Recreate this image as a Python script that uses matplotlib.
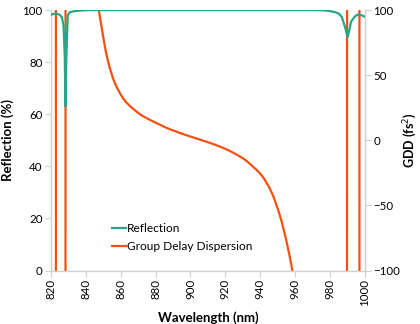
import numpy as np
import matplotlib.pyplot as plt
from matplotlib.path import Path
from matplotlib.patches import PathPatch

plt.rcParams['font.family'] = ['Lato', 'DejaVu Sans']

# reflection spectrum (%)
refl_wl = [820, 822, 823.5, 825, 826.3, 827.3, 828.0, 828.4, 828.9, 829.7, 831,
           833.8, 837, 842, 860, 900, 940, 970, 976, 980, 982.8, 985, 986.7,
           988.5, 989.5, 990.1, 990.8, 992, 994.3, 996, 998, 1000]
refl = [98.2, 98.6, 98.6, 98.2, 97.3, 94, 82, 63, 82, 98, 99.2,
        99.6, 99.8, 100, 100, 100, 100, 100, 99.9, 99.6, 99.2, 98.6, 97.4,
        93.6, 91, 89.7, 91.5, 95.5, 97.6, 98.3, 98.0, 97.4]

# group delay dispersion (fs^2), values beyond the axis range are clipped
gdd_wl = [820, 822.9, 822.95, 828.4, 828.45, 846, 847.5, 849.1, 850.6, 852.9,
          856.7, 862.4, 870.1, 874.9, 882.5, 888.2, 899.7, 911.2, 920.7, 928.4,
          933.1, 940.8, 946.5, 951.3, 955.1, 958.4, 960,
          989.7, 989.75, 996.8, 996.85, 1000]
gdd = [300, 300, -300, -300, 300, 115, 100, 87, 75, 60,
       44, 30.5, 21, 17, 12, 8.5, 3, -2, -7, -12.5,
       -17, -27, -40, -58, -78, -100, -112,
       -300, 300, 300, -300, -300]

teal = '#26a58b'
red = '#f5500f'
grey = '#d0d0d0'


def smooth_path(x, y):
    """Catmull-Rom style bezier path through the points (like a smoothed line)."""
    pts = np.column_stack([x, y])
    n = len(pts)
    verts = [pts[0]]
    codes = [Path.MOVETO]
    for i in range(n - 1):
        p0 = pts[max(i - 1, 0)]
        p1 = pts[i]
        p2 = pts[i + 1]
        p3 = pts[min(i + 2, n - 1)]
        verts += [p1 + (p2 - p0) / 6, p2 - (p3 - p1) / 6, p2]
        codes += [Path.CURVE4] * 3
    return Path(verts, codes)


fig = plt.figure(figsize=(4.2, 3.24), dpi=100)
ax = fig.add_axes([0.121, 0.165, 0.748, 0.804])
ax2 = ax.twinx()

wl = np.array(gdd_wl)
g = np.array(gdd)
left = wl <= 846
mid = (wl >= 846) & (wl <= 960)
right = wl >= 960

l1, = ax.plot(refl_wl, refl, color=teal, lw=1.6, label='Reflection', zorder=3)
l2, = ax2.plot(wl[left], g[left], color=red, lw=1.6, label='Group Delay Dispersion')
ax2.plot(wl[right], g[right], color=red, lw=1.6)
ax2.add_patch(PathPatch(smooth_path(wl[mid], g[mid]), fill=False,
                        edgecolor=red, lw=1.6))
ax.set_zorder(ax2.get_zorder() + 1)
ax.patch.set_visible(False)

ax.set_xlim(820, 1000)
ax.set_ylim(0, 100)
ax2.set_ylim(-100, 100)
ax.set_xticks(np.arange(820, 1001, 20))
ax.set_yticks(np.arange(0, 101, 20))
ax2.set_yticks(np.arange(-100, 101, 50))
ax.tick_params(axis='x', labelrotation=90)

for a in (ax, ax2):
    for s in a.spines.values():
        s.set_visible(False)
    a.tick_params(length=4, width=0.8, color=grey, labelsize=8.3, pad=2)
ax.spines['left'].set_visible(True)
ax.spines['bottom'].set_visible(True)
ax2.spines['right'].set_visible(True)
for s in (ax.spines['left'], ax.spines['bottom'], ax2.spines['right']):
    s.set_color(grey)
    s.set_linewidth(1)

ax.set_xlabel('Wavelength (nm)', fontsize=9.5, fontweight='bold', labelpad=4)
ax.set_ylabel('Reflection (%)', fontsize=9.5, fontweight='bold', labelpad=6)
ax2.set_ylabel('GDD (fs$^2$)', fontsize=9, fontweight='bold', labelpad=1)

ax.legend(handles=[l1, l2], loc='lower left', bbox_to_anchor=(0.16, 0.03),
          frameon=False, fontsize=8.6, handlelength=1.2, handletextpad=0.1,
          labelspacing=0.6)

fig.savefig('out.png', dpi=100)
